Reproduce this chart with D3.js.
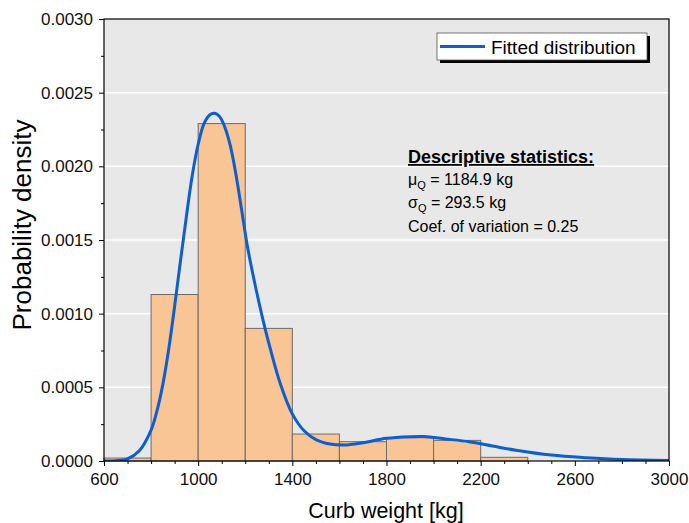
<!DOCTYPE html>
<meta charset="utf-8">
<title>Curb weight distribution</title>
<style>
    body { margin: 0; background: #fff; }
    text { font-family: "Liberation Sans", Arial, sans-serif; }
</style>
<script src="https://d3js.org/d3.v7.js"></script>
<svg id="chart" width="689" height="523"></svg>
<script>
    // histogram bins (lower edge, width 200 kg) and densities
    const binStarts = [600, 800, 1000, 1200, 1400, 1600, 1800, 2000, 2200];
    const binWidth = 200;
    const binDensity = [0.00002, 0.00113, 0.00229, 0.0009, 0.000183, 0.000131, 0.000158, 0.00014, 0.000025];

    // fitted curve
    const fitX = [600, 650, 700, 750, 800, 825, 850, 875, 900, 925, 950, 975, 1000, 1025, 1050, 1070, 1090, 1110, 1135, 1160, 1185, 1210, 1240, 1275, 1310, 1350, 1400, 1450, 1500, 1560, 1620, 1700, 1800, 1900, 1960, 2050, 2150, 2250, 2350, 2500, 2650, 2800, 3000];
    const fitY = [0, 0.000002, 0.000015, 0.00007, 0.00021, 0.00034, 0.00052, 0.00076, 0.00105, 0.00136, 0.00166, 0.00194, 0.00215, 0.00229, 0.00235, 0.00236, 0.00234, 0.00228, 0.00215, 0.00195, 0.0017, 0.00145, 0.00121, 0.00096, 0.00074, 0.00052, 0.00032, 0.000205, 0.000145, 0.000115, 0.000108, 0.000124, 0.000154, 0.000165, 0.000166, 0.00015, 0.000131, 0.000102, 0.000073, 0.00004, 0.000022, 0.00001, 0.000004];

    const xMajor = [600, 1000, 1400, 1800, 2200, 2600, 3000];
    const yMajor = [0, 0.0005, 0.001, 0.0015, 0.002, 0.0025, 0.003];

    const statLines = ["= 1184.9 kg", "= 293.5 kg", "Coef. of variation = 0.25"];

    const svg = d3.select("svg"),
        margin = {top: 19, right: 20, bottom: 62, left: 104},
        width = +svg.attr("width") - margin.left - margin.right,
        height = +svg.attr("height") - margin.top - margin.bottom;

    const x = d3.scaleLinear().domain([600, 3000]).range([0, width]);
    const y = d3.scaleLinear().domain([0, 0.003]).range([height, 0]);

    const g = svg.append("g").attr("transform", `translate(${margin.left},${margin.top})`);

    // plot background
    g.append("rect")
        .attr("width", width)
        .attr("height", height)
        .attr("fill", "#e8e8e8");

    // white grid
    g.append("g")
        .selectAll("line")
        .data(yMajor.slice(1, -1))
        .enter()
        .append("line")
        .attr("x1", 0)
        .attr("x2", width)
        .attr("y1", d => y(d))
        .attr("y2", d => y(d))
        .attr("stroke", "#fff")
        .attr("stroke-width", 1.5);

    g.append("clipPath").attr("id", "clip")
        .append("rect").attr("width", width).attr("height", height);

    // bars
    g.append("g")
        .selectAll("rect")
        .data(binStarts)
        .enter()
        .append("rect")
        .attr("x", d => x(d))
        .attr("width", d => x(d + binWidth) - x(d))
        .attr("y", (d, i) => y(binDensity[i]))
        .attr("height", (d, i) => height - y(binDensity[i]))
        .attr("fill", "#f9c594")
        .attr("stroke", "#6b6b6b")
        .attr("stroke-width", 1);

    // fitted curve
    const line = d3.line()
        .x(d => x(d[0]))
        .y(d => y(d[1]))
        .curve(d3.curveCatmullRom.alpha(0.5));

    g.append("path")
        .datum(fitX.map((v, i) => [v, fitY[i]]))
        .attr("clip-path", "url(#clip)")
        .attr("d", line)
        .attr("fill", "none")
        .attr("stroke", "#0b5fcf")
        .attr("stroke-width", 3);

    // frame
    g.append("rect")
        .attr("width", width)
        .attr("height", height)
        .attr("fill", "none")
        .attr("stroke", "#000")
        .attr("stroke-width", 1.2);

    // axes: minor ticks first, then labelled majors
    const xMinor = d3.range(600, 3001, 100).filter(v => !xMajor.includes(v));
    const yMinor = d3.range(0, 0.00301, 0.00025).filter(v => !yMajor.some(m => Math.abs(m - v) < 1e-9));

    g.append("g")
        .attr("transform", `translate(0,${height})`)
        .call(d3.axisBottom(x).tickValues(xMinor).tickSize(3).tickFormat(""))
        .call(a => a.select(".domain").remove());
    g.append("g")
        .attr("transform", `translate(0,${height})`)
        .call(d3.axisBottom(x).tickValues(xMajor).tickSize(5).tickPadding(7).tickFormat(d3.format("d")))
        .call(a => a.select(".domain").remove())
        .selectAll("text")
        .style("font-size", "17px")
        .attr("fill", "#111");

    g.append("g")
        .call(d3.axisLeft(y).tickValues(yMinor).tickSize(3).tickFormat(""))
        .call(a => a.select(".domain").remove());
    g.append("g")
        .call(d3.axisLeft(y).tickValues(yMajor).tickSize(5).tickPadding(6).tickFormat(d3.format(".4f")))
        .call(a => a.select(".domain").remove())
        .selectAll("text")
        .style("font-size", "17px")
        .attr("fill", "#111");

    // axis titles
    svg.append("text")
        .attr("x", 386)
        .attr("y", 518)
        .attr("text-anchor", "middle")
        .style("font-size", "21.5px")
        .text("Curb weight [kg]");

    svg.append("text")
        .attr("transform", "translate(31,225) rotate(-90)")
        .attr("text-anchor", "middle")
        .style("font-size", "26px")
        .text("Probability density");

    // legend
    const leg = svg.append("g").attr("transform", "translate(437,33)");
    leg.append("rect")
        .attr("x", 3).attr("y", 3)
        .attr("width", 210).attr("height", 27)
        .attr("fill", "#000");
    leg.append("rect")
        .attr("width", 210).attr("height", 27)
        .attr("fill", "#fff")
        .attr("stroke", "#555")
        .attr("stroke-width", 0.8);
    leg.append("line")
        .attr("x1", 3).attr("x2", 48)
        .attr("y1", 13.5).attr("y2", 13.5)
        .attr("stroke", "#0b5fcf")
        .attr("stroke-width", 3);
    leg.append("text")
        .attr("x", 54).attr("y", 20.5)
        .style("font-size", "19px")
        .text("Fitted distribution");

    // descriptive statistics
    const st = svg.append("g").attr("transform", "translate(408,0)");
    st.append("text")
        .attr("y", 163)
        .style("font-size", "18px")
        .style("font-weight", "bold")
        .style("text-decoration", "underline")
        .text("Descriptive statistics:");
    const sym = ["μ", "σ"];
    [185, 208].forEach((yy, i) => {
        const t = st.append("text").attr("y", yy).style("font-size", "16px");
        t.append("tspan").text(sym[i]);
        t.append("tspan").attr("dy", 4).style("font-size", "11px").text("Q");
        t.append("tspan").attr("dy", -4).text(" " + statLines[i]);
    });
    st.append("text")
        .attr("y", 232)
        .style("font-size", "16px")
        .text(statLines[2]);
</script>
